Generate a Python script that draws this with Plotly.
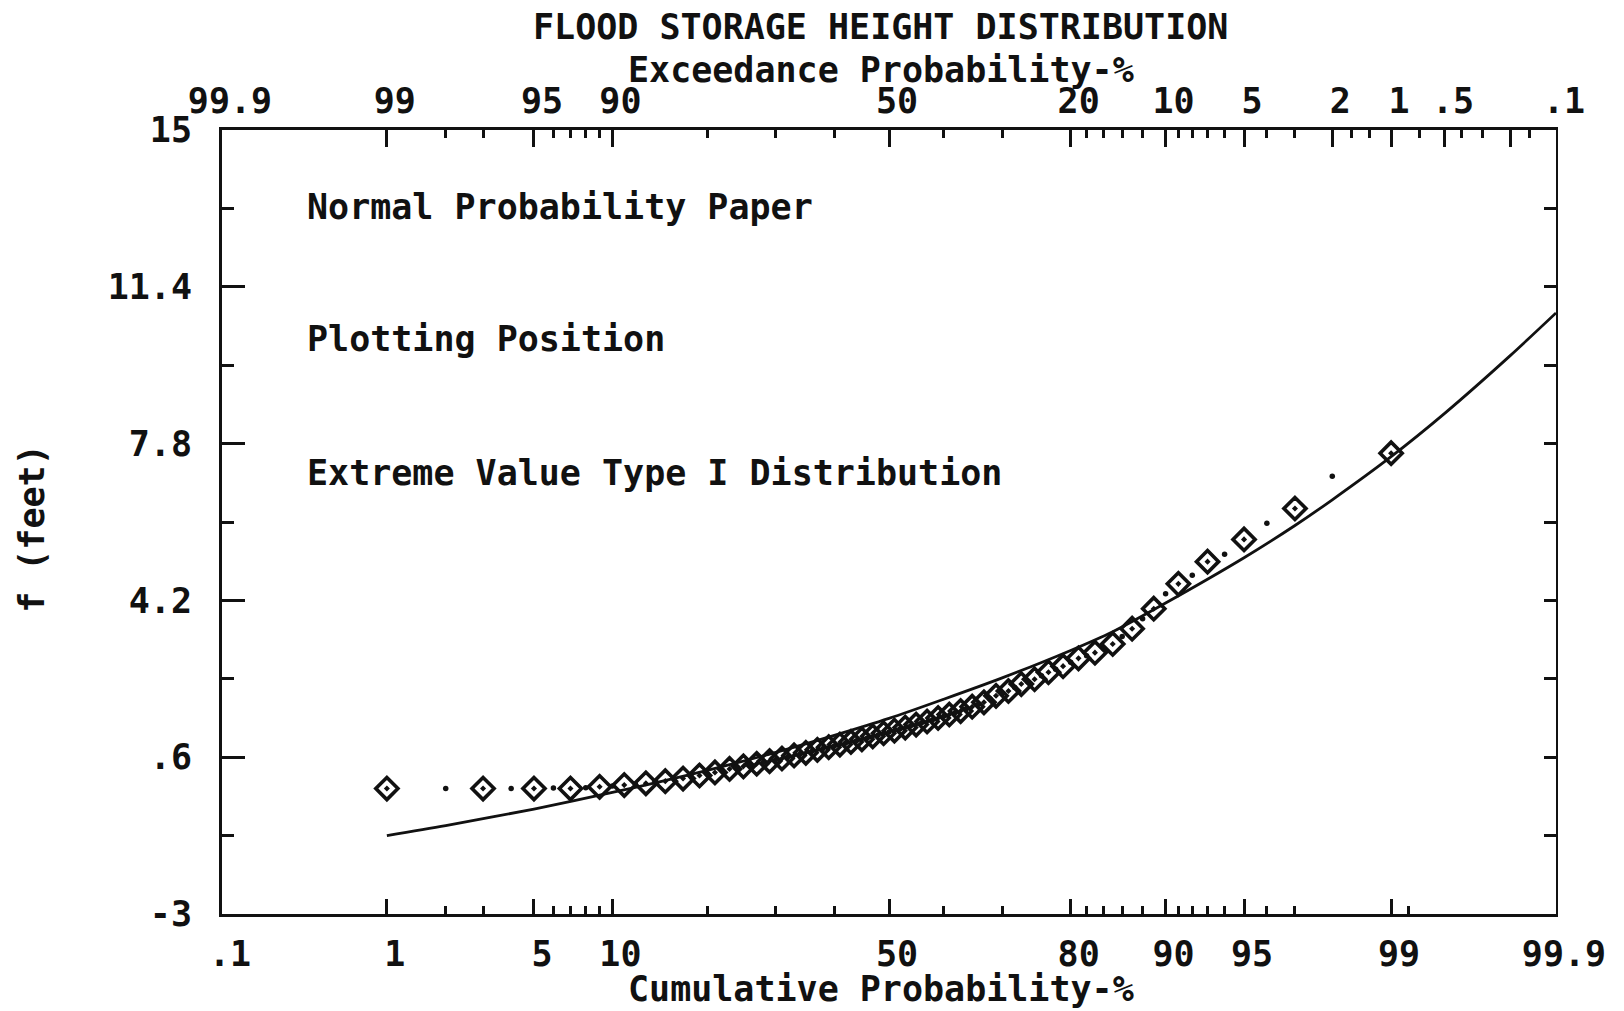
import plotly.graph_objects as go
from statistics import NormalDist

# ---------------- data ----------------
plot_pos_pct = [1, 2, 3, 4, 5, 6, 7, 8, 9, 10, 11, 12, 13, 14, 15, 16, 17, 18, 19, 20,
                21, 22, 23, 24, 25, 26, 27, 28, 29, 30, 31, 32, 33, 34, 35, 36, 37, 38, 39, 40,
                41, 42, 43, 44, 45, 46, 47, 48, 49, 50, 51, 52, 53, 54, 55, 56, 57, 58, 59, 60,
                61, 62, 63, 64, 65, 66, 67, 68, 69, 70, 71, 72, 73, 74, 75, 76, 77, 78, 79, 80,
                81, 82, 83, 84, 85, 86, 87, 88, 89, 90, 91, 92, 93, 94, 95, 96, 97, 98, 99]
height_ft = [-0.12, -0.12, -0.12, -0.12, -0.12, -0.11, -0.12, -0.10, -0.08, -0.06,
             -0.04, -0.02, 0.00, 0.03, 0.05, 0.08, 0.11, 0.14, 0.18, 0.21,
             0.25, 0.29, 0.33, 0.36, 0.39, 0.42, 0.45, 0.48, 0.51, 0.54,
             0.57, 0.61, 0.64, 0.67, 0.70, 0.73, 0.77, 0.80, 0.83, 0.86,
             0.89, 0.92, 0.95, 0.98, 1.01, 1.04, 1.08, 1.11, 1.15, 1.18,
             1.21, 1.25, 1.28, 1.32, 1.35, 1.39, 1.42, 1.46, 1.50, 1.54,
             1.58, 1.62, 1.66, 1.71, 1.76, 1.81, 1.86, 1.94, 2.01, 2.07,
             2.12, 2.20, 2.28, 2.33, 2.39, 2.47, 2.55, 2.62, 2.69, 2.78,
             2.87, 2.93, 3.00, 3.10, 3.20, 3.37, 3.55, 3.78, 4.01, 4.35,
             4.58, 4.78, 5.09, 5.26, 5.60, 5.97, 6.31, 7.05, 7.58]

fit_pct = [1, 2, 5, 10, 20, 30, 40, 50, 60, 70, 80, 85, 90, 95, 97, 98, 99, 99.5, 99.8, 99.9]
fit_ft = [-1.20, -0.97, -0.59, -0.21, 0.30, 0.71, 1.10, 1.49, 1.93, 2.42,
          3.05, 3.48, 4.14, 5.18, 5.92, 6.51, 7.50, 8.50, 9.82, 10.80]

# axis ticks
cum_major = [0.1, 1, 5, 10, 50, 80, 90, 95, 99, 99.9]
cum_major_lbl = [".1", "1", "5", "10", "50", "80", "90", "95", "99", "99.9"]
cum_minor = [2, 3, 6, 7, 8, 9, 20, 30, 40, 60, 70, 82, 84, 86, 88, 91, 92, 93, 94, 96, 97, 99.2]

exc_major = [99.9, 99, 95, 90, 50, 20, 10, 5, 2, 1, 0.5, 0.2, 0.1]
exc_major_lbl = ["99.9", "99", "95", "90", "50", "20", "10", "5", "2", "1", ".5", "", ".1"]
exc_minor = [98, 97, 94, 93, 92, 91, 80, 70, 60, 40, 30, 18, 16, 14, 12,
             9, 8, 7, 6, 4, 3, 1.6, 1.3, 0.7, 0.4, 0.3, 0.15]

y_major = [-3, 0.6, 4.2, 7.8, 11.4, 15]
y_major_lbl = ["-3", ".6", "4.2", "7.8", "11.4", "15"]
y_minor = [-1.2, 2.4, 6, 9.6, 13.2]
y_right = [-3, -1.2, 0.6, 2.4, 4.2, 6, 7.8, 9.6, 11.4, 13.2, 15]

# ---------------- probability scale ----------------
nd = NormalDist()


def zc(pct):
    return nd.inv_cdf(pct / 100.0)


def ze(pct):  # exceedance -> position on the cumulative scale
    return nd.inv_cdf(1 - pct / 100.0)


xr = [zc(0.1), zc(99.9)]
yr = [-3, 15]

FONT = "DejaVu Sans Mono"
INK = "#111111"
FS = 35

odd_x = [zc(p) for i, p in enumerate(plot_pos_pct) if i % 2 == 0]
odd_y = [v for i, v in enumerate(height_ft) if i % 2 == 0]
even_x = [zc(p) for i, p in enumerate(plot_pos_pct) if i % 2 == 1]
even_y = [v for i, v in enumerate(height_ft) if i % 2 == 1]

fig = go.Figure()
fig.add_trace(go.Scatter(
    x=[zc(p) for p in fit_pct], y=fit_ft, mode="lines",
    line=dict(color=INK, width=2.8, shape="spline", smoothing=0.8),
    xaxis="x2", yaxis="y", showlegend=False, hoverinfo="skip"))
fig.add_trace(go.Scatter(
    x=odd_x, y=odd_y, mode="markers",
    marker=dict(symbol="diamond-open-dot", size=17, color=INK,
                line=dict(color=INK, width=3.6)),
    xaxis="x", yaxis="y", showlegend=False))
fig.add_trace(go.Scatter(
    x=even_x, y=even_y, mode="markers",
    marker=dict(symbol="circle", size=5.5, color=INK, line=dict(width=0)),
    xaxis="x", yaxis="y2", showlegend=False))

tickfont = dict(family=FONT, size=FS, color=INK, weight="bold")

fig.update_layout(
    width=1624, height=1011,
    margin=dict(l=222, r=68, t=130, b=97, pad=0),
    paper_bgcolor="white", plot_bgcolor="white",
    showlegend=False,
    xaxis=dict(
        range=xr, showgrid=False, zeroline=False,
        showline=True, linecolor=INK, linewidth=3,
        tickmode="array", tickvals=[zc(p) for p in cum_major], ticktext=cum_major_lbl,
        ticks="inside", ticklen=15, tickwidth=2.5, tickcolor=INK,
        ticklabelstandoff=7, ticklabelshift=8,
        tickfont=tickfont,
        minor=dict(tickmode="array", tickvals=[zc(p) for p in cum_minor],
                   ticks="inside", ticklen=8, tickwidth=2.5, tickcolor=INK, showgrid=False),
    ),
    xaxis2=dict(
        range=xr, overlaying="x", side="top", anchor="y",
        showgrid=False, zeroline=False,
        showline=True, linecolor=INK, linewidth=3,
        tickmode="array", tickvals=[ze(p) for p in exc_major], ticktext=exc_major_lbl,
        ticks="inside", ticklen=17, tickwidth=2.5, tickcolor=INK,
        ticklabelstandoff=0, ticklabelshift=8,
        tickfont=tickfont,
        minor=dict(tickmode="array", tickvals=[ze(p) for p in exc_minor],
                   ticks="inside", ticklen=8, tickwidth=2.5, tickcolor=INK, showgrid=False),
    ),
    yaxis=dict(
        range=yr, showgrid=False, zeroline=False,
        showline=True, linecolor=INK, linewidth=3,
        tickmode="array", tickvals=y_major, ticktext=y_major_lbl,
        ticks="inside", ticklen=23, tickwidth=3, tickcolor=INK,
        ticklabelstandoff=20,
        tickfont=tickfont,
        minor=dict(tickmode="array", tickvals=y_minor,
                   ticks="inside", ticklen=12, tickwidth=3, tickcolor=INK, showgrid=False),
    ),
    yaxis2=dict(
        range=yr, overlaying="y", side="right", anchor="x",
        showgrid=False, zeroline=False,
        showline=True, linecolor=INK, linewidth=2,
        tickmode="array", tickvals=y_right, showticklabels=False,
        ticks="inside", ticklen=12, tickwidth=2.5, tickcolor=INK,
    ),
)

textfont = dict(family=FONT, size=FS, color=INK, weight="bold")
annos = [
    dict(text="FLOOD STORAGE HEIGHT DISTRIBUTION", x=0.494, y=1.131, xanchor="center"),
    dict(text="Exceedance Probability-%", x=0.494, y=1.076, xanchor="center"),
    dict(text="Cumulative Probability-%", x=0.494, y=-0.096, xanchor="center"),
    dict(text="Normal Probability Paper", x=0.062, y=0.902, xanchor="left"),
    dict(text="Plotting Position", x=0.062, y=0.733, xanchor="left"),
    dict(text="Extreme Value Type I Distribution", x=0.062, y=0.5625, xanchor="left"),
]
for a in annos:
    fig.add_annotation(xref="paper", yref="paper", yanchor="middle", showarrow=False,
                       font=textfont, **a)
fig.add_annotation(xref="paper", yref="paper", x=-0.142, y=0.492, text="f (feet)",
                   textangle=-90, showarrow=False, xanchor="center", yanchor="middle",
                   font=textfont)

fig.write_html("out.html",
               config={"displayModeBar": False},
               post_script="document.body.style.margin='0px';"
                           "document.body.style.overflow='hidden';")
